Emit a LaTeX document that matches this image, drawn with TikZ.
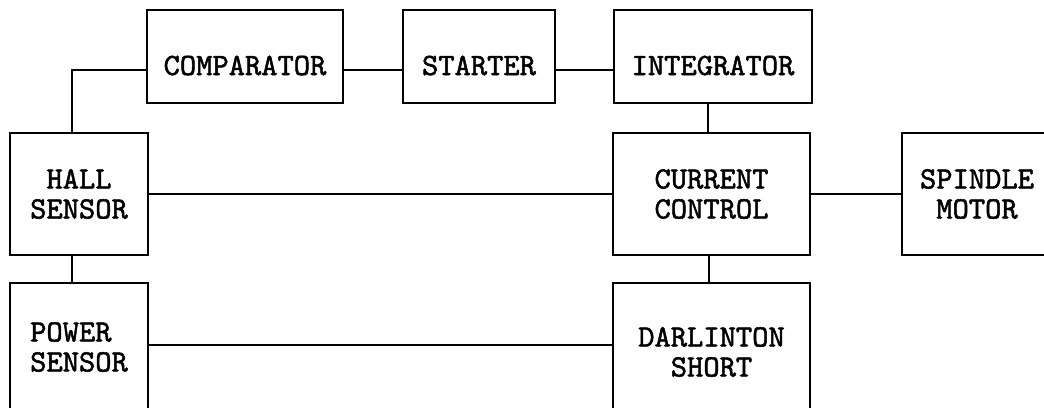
\documentclass[tikz,border=0pt]{standalone}
\usepackage{fontspec}
\newfontfamily\boxfont{lmmono10-regular.otf}[FakeBold=1.6]
\usetikzlibrary{positioning}

\begin{document}
\begin{tikzpicture}[x=1pt, y=-1pt,
    box/.style={draw, line width=2pt, inner sep=0pt, align=center, font=\boxfont\fontsize{31}{30}\selectfont},
    topbox/.style={box, text height=65pt, text depth=28pt},
    wire/.style={line width=2pt}
]
    \clip (0,0) rectangle (1044,407);
    % Place nodes
    \node [topbox, minimum width=196pt] (comp) at (245,56.5) {COMPARATOR};
    \node [topbox, minimum width=152pt] (start) at (479,56.5) {STARTER};
    \node [topbox, minimum width=198pt] (integ) at (713,56.5) {INTEGRATOR};
    \node [box, minimum width=138pt, minimum height=122pt] (hall) at (79,194) {HALL\\SENSOR};
    \node [box, minimum width=197pt, minimum height=122pt] (curr) at (711.5,194) {CURRENT\\CONTROL};
    \node [box, minimum width=150pt, minimum height=122pt] (spin) at (977,194) {SPINDLE\\MOTOR};
    \node [box, align=left, minimum width=138pt, minimum height=128pt] (power) at (79,347) {POWER\\SENSOR};
    \node [box, minimum width=197pt, minimum height=138pt] (darl) at (711.5,352) {DARLINTON\\SHORT};

    % Draw edges
    \draw [wire] ([yshift=-13.5pt]comp.east) -- ([yshift=-13.5pt]start.west);
    \draw [wire] ([yshift=-13.5pt]start.east) -- ([yshift=-13.5pt]integ.west);
    \draw [wire] ([xshift=-7pt]hall.north) |- ([yshift=-13.5pt]comp.west);
    \draw [wire] ([xshift=-5pt]integ.south) -- ([xshift=-5pt]integ.south |- curr.north);
    \draw [wire] (hall.east) -- (hall.east -| curr.west);
    \draw [wire] (curr.east) -- (curr.east -| spin.west);
    \draw [wire] ([xshift=-7pt]hall.south) -- ([xshift=-7pt]power.north);
    \draw [wire] ([xshift=-3pt]curr.south) -- ([xshift=-3pt]curr.south |- darl.north);
    \draw [wire] ([yshift=2pt]power.east) -- ([yshift=2pt]power.east -| darl.west);
\end{tikzpicture}
\end{document}
